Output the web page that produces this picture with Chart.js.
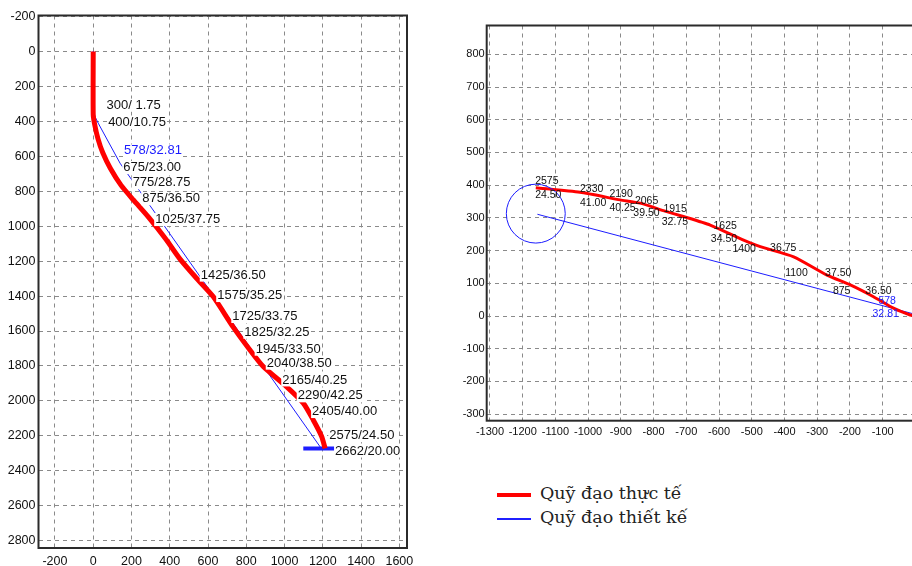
<!DOCTYPE html>
<html>
<head>
<meta charset="utf-8">
<script src="https://cdn.jsdelivr.net/npm/chart.js@4.4.1/dist/chart.umd.min.js"></script>
<style>
  html, body { margin: 0; padding: 0; background: #fff; }
  body { width: 912px; height: 566px; overflow: hidden; position: relative; }
  #sectionWrap { position: absolute; left: 0; top: 0; width: 420px; height: 566px; }
  #planWrap { position: absolute; left: 440px; top: 0; width: 480px; height: 450px; }
  #legend { position: absolute; left: 497px; top: 481px; font: 17.5px "DejaVu Serif", serif; color: #222; }
  #legend div { height: 24px; line-height: 24px; white-space: nowrap; }
  #legend span.sw { display: inline-block; width: 34px; vertical-align: middle; margin-right: 9px; }
</style>
</head>
<body>
<div id="sectionWrap"><canvas id="sectionChart"></canvas></div>
<div id="planWrap"><canvas id="planChart"></canvas></div>
<div id="legend">
  <div><span class="sw" style="height:4px;background:#ff0000"></span>Quỹ đạo thực tế</div>
  <div><span class="sw" style="height:2px;background:#2020ff"></span>Quỹ đạo thiết kế</div>
</div>

<script>
// vertical section: horizontal displacement (m) vs TVD (m)
const actualDisp = [0, 0, 8, 25, 50, 90, 145, 210, 290, 380, 455, 540, 627, 730, 820, 890, 1010, 1098, 1150, 1194, 1212];
const actualTvd = [0, 360, 420, 500, 580, 670, 765, 850, 950, 1075, 1190, 1298, 1403, 1575, 1710, 1805, 1918, 2013, 2109, 2204, 2272];
const designDisp = [0, 0, 10, 26, 140, 1188];
const designTvd = [0, 330, 375, 410, 639, 2266];
const targetBarDisp = [1098, 1272];
const targetBarTvd = [2273, 2273];
const sectionTicksX = [-200, 0, 200, 400, 600, 800, 1000, 1200, 1400, 1600];
const sectionTicksY = [-200, 0, 200, 400, 600, 800, 1000, 1200, 1400, 1600, 1800, 2000, 2200, 2400, 2600, 2800];

// station labels on the section (MD / inclination)
const sectionLabels = ["300/ 1.75", "400/10.75", "578/32.81", "675/23.00", "775/28.75", "875/36.50",
  "1025/37.75", "1425/36.50", "1575/35.25", "1725/33.75", "1825/32.25", "1945/33.50", "2040/38.50",
  "2165/40.25", "2290/42.25", "2405/40.00", "2575/24.50", "2662/20.00"];
const sectionLabelDisp = [70, 78, 161, 157, 206, 256, 324, 562, 648, 727, 790, 849, 907, 988, 1069, 1144, 1234, 1264];
const sectionLabelTvd = [307, 407, 569, 664, 752, 843, 962, 1280, 1397, 1517, 1607, 1704, 1784, 1880, 1971, 2061, 2199, 2287];
const sectionLabelDesign = [2]; // index of the design-point label

// plan view: east/west vs north/south
const actualEW = [-1160, -1025, -902, -841, -770, -709, -627, -525, -474, -372, -270, -199, -128, -67, -16, 0];
const actualNS = [392, 378, 355, 345, 322, 304, 278, 232, 212, 181, 125, 95, 59, 24, 3, 0];
const designEW = [-1155, 0];
const designNS = [311, 5];
const targetCenter = [-1160, 313];
const targetRadius = 90;
const planTicksX = [-1300, -1200, -1100, -1000, -900, -800, -700, -600, -500, -400, -300, -200, -100];
const planTicksY = [-300, -200, -100, 0, 100, 200, 300, 400, 500, 600, 700, 800];

const planLabels = ["2575", "24.50", "2330", "41.00", "2190", "40.25", "2065", "39.50", "1915", "32.75",
  "1625", "34.50", "1400", "36.75", "1100", "37.50", "875", "36.50", "578", "32.81"];
const planLabelEW = [-1162, -1162, -1025, -1025, -935, -935, -857, -862, -770, -775, -617, -625, -559, -444, -398, -276, -252, -153, -113, -131];
const planLabelNS = [411, 370, 387, 346, 372, 331, 352, 314, 326, 288, 275, 235, 204, 207, 132, 132, 76, 77, 47, 6];
const planLabelDesign = [18, 19];

const RED = "#ff0000";
const BLUE = "#1c1cff";

function toPoints(xs, ys) {
  return xs.map((v, i) => ({ x: v, y: ys[i] }));
}

// frame around the plot area
const framePlugin = {
  id: "frame",
  afterDatasetsDraw(chart) {
    const a = chart.chartArea;
    const ctx = chart.ctx;
    ctx.save();
    ctx.strokeStyle = "#2b2b2b";
    ctx.lineWidth = 2;
    ctx.strokeRect(a.left, a.top, a.right - a.left, a.bottom - a.top);
    ctx.restore();
  }
};

// text labels placed at data positions
const labelPlugin = {
  id: "stationLabels",
  afterDatasetsDraw(chart, args, opts) {
    const ctx = chart.ctx;
    const sx = chart.scales.x, sy = chart.scales.y;
    ctx.save();
    ctx.font = opts.font;
    ctx.textBaseline = "middle";
    ctx.textAlign = "left";
    opts.texts.forEach((t, i) => {
      const px = sx.getPixelForValue(opts.xs[i]);
      const py = sy.getPixelForValue(opts.ys[i]);
      const w = ctx.measureText(t).width;
      if (opts.background) {
        ctx.fillStyle = "#fff";
        ctx.fillRect(px - 1, py - opts.boxH / 2, w + 2, opts.boxH);
      }
      ctx.fillStyle = opts.blue.includes(i) ? BLUE : "#111";
      ctx.fillText(t, px, py);
    });
    ctx.restore();
  }
};

// target circle in plan view, radius in data units
const circlePlugin = {
  id: "targetCircle",
  afterDatasetsDraw(chart) {
    const ctx = chart.ctx;
    const sx = chart.scales.x, sy = chart.scales.y;
    const cx = sx.getPixelForValue(targetCenter[0]);
    const cy = sy.getPixelForValue(targetCenter[1]);
    const r = Math.abs(sx.getPixelForValue(targetCenter[0] + targetRadius) - cx);
    ctx.save();
    ctx.strokeStyle = BLUE;
    ctx.lineWidth = 1;
    ctx.beginPath();
    ctx.arc(cx, cy, r, 0, Math.PI * 2);
    ctx.stroke();
    ctx.restore();
  }
};

function gridScale(fontSize, tickValues, extra) {
  return Object.assign({
    type: "linear",
    grid: { color: "#8a8a8a", lineWidth: 1, drawTicks: false },
    border: { display: false, dash: [4, 4] },
    afterBuildTicks(s) { s.ticks = tickValues.map(v => ({ value: v })); }
  }, extra, {
    ticks: Object.assign({
      color: "#111",
      maxRotation: 0,
      autoSkip: false,
      font: { family: "Liberation Sans", size: fontSize },
      callback: v => String(v)
    }, extra.ticks)
  });
}

new Chart(document.getElementById("sectionChart"), {
  type: "scatter",
  data: {
    datasets: [
      { data: toPoints(actualDisp, actualTvd), showLine: true, borderColor: RED, borderWidth: 5, pointRadius: 0, tension: 0.2 },
      { data: toPoints(targetBarDisp, targetBarTvd), showLine: true, borderColor: BLUE, borderWidth: 4, pointRadius: 0 },
      { data: toPoints(designDisp, designTvd), showLine: true, borderColor: BLUE, borderWidth: 1, pointRadius: 0 }
    ]
  },
  options: {
    animation: false,
    responsive: true,
    maintainAspectRatio: false,
    layout: { padding: { top: 15.5, right: 13, left: 0, bottom: 0 } },
    scales: {
      x: gridScale(12.5, sectionTicksX, {
        min: -286, max: 1640,
        ticks: { padding: 6 },
        afterFit(s) { s.height = 18; }
      }),
      y: gridScale(12.5, sectionTicksY, {
        min: -206, max: 2842, reverse: true,
        ticks: { padding: 3 },
        afterFit(s) { s.width = 38.5; }
      })
    },
    plugins: {
      legend: { display: false },
      tooltip: { enabled: false },
      stationLabels: {
        texts: sectionLabels, xs: sectionLabelDisp, ys: sectionLabelTvd, blue: sectionLabelDesign,
        font: "13px 'Liberation Sans'", background: true, boxH: 13
      }
    }
  },
  plugins: [labelPlugin, framePlugin]
});

new Chart(document.getElementById("planChart"), {
  type: "scatter",
  data: {
    datasets: [
      { data: toPoints(actualEW, actualNS), showLine: true, borderColor: RED, borderWidth: 3, pointRadius: 0, tension: 0.2 },
      { data: toPoints(designEW, designNS), showLine: true, borderColor: BLUE, borderWidth: 1, pointRadius: 0 }
    ]
  },
  options: {
    animation: false,
    responsive: true,
    maintainAspectRatio: false,
    layout: { padding: { top: 25.5, right: 4.6, left: 0, bottom: 0 } },
    scales: {
      x: gridScale(11, planTicksX, {
        min: -1310, max: 0,
        ticks: { padding: 5 },
        afterFit(s) { s.height = 29.3; }
      }),
      y: gridScale(11, planTicksY, {
        min: -320, max: 888,
        ticks: { padding: 2 },
        afterFit(s) { s.width = 46.7; }
      })
    },
    plugins: {
      legend: { display: false },
      tooltip: { enabled: false },
      stationLabels: {
        texts: planLabels, xs: planLabelEW, ys: planLabelNS, blue: planLabelDesign,
        font: "10.5px 'Liberation Sans'", background: false, boxH: 11
      }
    }
  },
  plugins: [circlePlugin, labelPlugin, framePlugin]
});
</script>
</body>
</html>
